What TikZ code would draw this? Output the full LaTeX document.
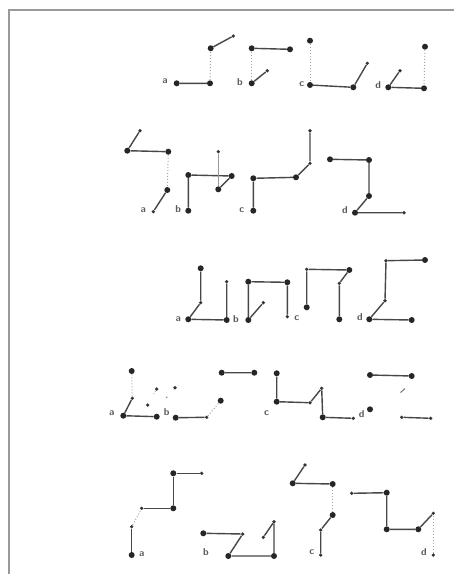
\documentclass[tikz,border=0pt]{standalone}
\begin{document}
\begin{tikzpicture}[x=1pt,y=-1pt,
  bd/.style={circle,fill=black!85,inner sep=0pt,minimum size=6pt},
  sd/.style={circle,fill=black!80,inner sep=0pt,minimum size=3.6pt},
  td/.style={circle,fill=black!40,inner sep=0pt,minimum size=2pt},
  ln/.style={line width=1.4pt,draw=black!72},
  dl/.style={line width=1pt,draw=black!35,dotted},
  lb/.style={font=\fontsize{10}{10}\sffamily\bfseries,text=black!65,inner sep=0pt}]
\fill[white] (0,0) rectangle (454,574);
\useasboundingbox (0,0) rectangle (454,574);
\draw[line width=1.4pt,black!40] (9,574) -- (9,10) -- (454,10);
% ---------- row 1
\node[lb] (la1) at (165,81) {a};
\node[bd] (A1) at (176.7,83.3) {}; \node[bd] (A2) at (210,83.3) {};
\node[bd] (A3) at (210.7,48.3) {}; \node[sd] (A4) at (233.3,36) {};
\draw[ln] (A1)--(A2) (A3)--(A4); \draw[dl] (A2)--(A3);
\node[lb] (lb1) at (240,81.7) {b};
\node[bd] (B1) at (251.7,83.3) {}; \node[sd] (B2) at (267.3,70.7) {};
\node[bd] (B3) at (251.7,48.3) {}; \node[bd] (B4) at (290,49.3) {};
\draw[ln] (B1)--(B2) (B3)--(B4); \draw[dl] (B3)--(B1);
\node[lb] (lc1) at (301.7,84) {c};
\node[bd] (C1) at (310,85) {}; \node[bd] (C2) at (353.3,87.3) {};
\node[sd] (C3) at (367.3,63.3) {}; \node[bd] (C4) at (310,40.7) {};
\draw[ln] (C1)--(C2) (C2)--(C3); \draw[dl] (C4)--(C1);
\node[lb] (ld1) at (378.3,85) {d};
\node[bd] (D1) at (388.3,87.3) {}; \node[sd] (D2) at (400,70.7) {};
\node[bd] (D3) at (424,88.3) {}; \node[bd] (D4) at (425,46.7) {};
\draw[ln] (D1)--(D2) (D1)--(D3); \draw[dl] (D4)--(D3);
% ---------- row 2
\node[sd] (E1) at (140,130.7) {}; \node[bd] (E2) at (127.3,150.7) {};
\node[bd] (E3) at (168.3,151.7) {}; \node[bd] (E4) at (167.3,190) {};
\node[sd] (E5) at (153.3,211.7) {}; \node[lb] (la2) at (143.3,210) {a};
\draw[ln] (E1)--(E2) (E2)--(E3) (E4)--(E5); \draw[dl] (E3)--(E4);
\node[lb] (lb2) at (178.3,209.3) {b};
\node[bd] (F1) at (188.3,210.7) {}; \node[bd] (F2) at (188.3,175) {};
\node[bd] (F3) at (231.7,176) {}; \node[bd] (F4) at (218.3,189.3) {};
\node[sd] (F5) at (218.3,151.7) {};
\draw[ln] (F1)--(F2) (F2)--(F3) (F4)--(F3); \draw[ln,black!40,line width=0.9pt] (F5)--(F4);
\node[lb] (lc2) at (241.7,210) {c};
\node[bd] (G1) at (253.3,210.7) {}; \node[bd] (G2) at (253.3,178.3) {};
\node[bd] (G3) at (296,177.3) {}; \node[sd] (G4) at (310,163.3) {};
\node[sd] (G5) at (310,130.7) {};
\draw[ln] (G1)--(G2) (G2)--(G3) (G3)--(G4) (G4)--(G5);
\node[lb] (ld2) at (345,210) {d};
\node[bd] (H1) at (355,212.7) {}; \node[bd] (H2) at (369,196) {};
\node[bd] (H3) at (369,160) {}; \node[bd] (H4) at (330,159.3) {};
\node[sd] (H5) at (404,212.7) {};
\draw[ln] (H1)--(H2) (H2)--(H3) (H3)--(H4) (H1)--(H5);
% ---------- row 3
\node[lb] (la3) at (178.3,319.3) {a};
\node[bd] (I1) at (188.3,319.3) {}; \node[sd] (I2) at (200.7,302.7) {};
\node[bd] (I3) at (200.7,268.3) {}; \node[bd] (I4) at (226.7,320) {};
\node[sd] (I5) at (226.7,281.7) {};
\draw[ln] (I1)--(I2) (I2)--(I3) (I1)--(I4) (I4)--(I5);
\node[lb] (lb3) at (236,319.3) {b};
\node[bd] (J1) at (248.3,320) {}; \node[sd] (J2) at (263.3,302.7) {};
\node[bd] (J3) at (248.3,281.7) {}; \node[bd] (J4) at (287.3,282.3) {};
\node[sd] (J5) at (287.3,316.7) {};
\draw[ln] (J1)--(J2) (J1)--(J3) (J3)--(J4) (J4)--(J5);
\node[lb] (lc3) at (296.7,318.3) {c};
\node[bd] (K1) at (306.7,307.3) {}; \node[sd] (K2) at (306.7,269.3) {};
\node[bd] (K3) at (349.3,270) {}; \node[sd] (K4) at (339.3,283.3) {};
\node[bd] (K5) at (339.3,319.3) {};
\draw[ln] (K1)--(K2) (K2)--(K3) (K3)--(K4) (K4)--(K5);
\node[lb] (ld3) at (360,316.7) {d};
\node[bd] (L1) at (369.3,319.3) {}; \node[sd] (L2) at (385,300.7) {};
\node[sd] (L3) at (386,260.7) {}; \node[bd] (L4) at (425,260) {};
\node[bd] (L5) at (411.7,320) {};
\draw[ln] (L1)--(L2) (L2)--(L3) (L3)--(L4) (L1)--(L5);
% ---------- row 4
\node[lb] (la4) at (111.7,413.3) {a};
\node[bd] (M1) at (123.3,415.7) {}; \node[sd] (M2) at (132.3,398.3) {};
\node[bd] (M3) at (131.7,371) {}; \node[bd] (M4) at (156.7,416.7) {};
\draw[ln] (M1)--(M2) (M1)--(M4); \draw[dl] (M2)--(M3);
\node[sd] (N1) at (147.7,405) {}; \node[sd] (N2) at (156.7,389) {};
\node[sd] (N3) at (175,387.7) {}; \node[td] (N4) at (166.7,397.3) {};
\coordinate (n2t) at (153.8,394);
\draw[dl] (N2)--(n2t);
\node[lb] (lb4) at (166.7,412) {b};
\node[bd] (O1) at (175.7,417.7) {}; \node[sd] (O2) at (206.7,417.3) {};
\node[bd] (O3) at (220.7,400.7) {}; \node[bd] (O4) at (221.7,372.7) {};
\node[bd] (O5) at (254.3,372.7) {};
\draw[ln] (O1)--(O2) (O4)--(O5); \draw[dl] (O2)--(O3);
\node[lb] (lc4) at (266.5,413.3) {c};
\node[bd] (P1) at (276.7,373.3) {}; \node[bd] (P2) at (276.7,401.7) {};
\node[sd] (P3) at (310,402.7) {}; \node[sd] (P4) at (321.7,388.3) {};
\node[bd] (P5) at (322.7,417.3) {}; \node[sd] (P6) at (353.3,418.3) {};
\draw[ln] (P1)--(P2) (P2)--(P3) (P3)--(P4) (P4)--(P5) (P5)--(P6);
\node[lb] (ld4) at (361.7,414) {d};
\node[bd] (Q1) at (370,409.3) {}; \node[bd] (Q2) at (370,375) {};
\node[bd] (Q3) at (411.7,376) {};
\coordinate (q4a) at (400.5,392.5); \coordinate (q4b) at (405,388.5);
\node[sd] (Q5) at (401.7,417.3) {}; \node[sd] (Q6) at (430.7,418.3) {};
\draw[ln] (Q2)--(Q3) (Q5)--(Q6); \draw[ln,black!55,line width=1pt] (q4a)--(q4b);
% ---------- row 5
\node[bd] (R1) at (131.7,555) {}; \node[lb] (la5) at (141.7,554) {a};
\node[sd] (R2) at (131.7,526.7) {}; \node[sd] (R3) at (141.7,508.3) {};
\node[bd] (R4) at (173.3,508.3) {}; \node[bd] (R5) at (173.3,473.3) {};
\node[sd] (R6) at (201.7,473.3) {};
\draw[ln] (R1)--(R2) (R3)--(R4) (R4)--(R5) (R5)--(R6); \draw[dl] (R2)--(R3);
\node[lb] (lb5) at (206,551.7) {b};
\node[bd] (S1) at (203.3,533.3) {}; \node[sd] (S2) at (242.7,534) {};
\node[bd] (S3) at (228.3,556) {}; \node[bd] (S4) at (274,556) {};
\node[sd] (S5) at (274,521.7) {}; \node[sd] (S6) at (263.3,537.3) {};
\draw[ln] (S1)--(S2) (S2)--(S3) (S3)--(S4) (S4)--(S5) (S5)--(S6);
\node[lb] (lc5) at (311.7,551.7) {c};
\node[sd] (T1) at (320.7,555) {}; \node[sd] (T2) at (320.7,530) {};
\node[bd] (T3) at (332.7,515) {}; \node[bd] (T4) at (332.7,484) {};
\node[bd] (T5) at (292.7,483.3) {}; \node[sd] (T6) at (305,465) {};
\draw[ln] (T1)--(T2) (T2)--(T3) (T4)--(T5) (T5)--(T6); \draw[dl] (T3)--(T4);
\node[lb] (ld5) at (424,551.7) {d};
\node[sd] (U1) at (433.3,555) {}; \node[sd] (U2) at (433.3,513.3) {};
\node[bd] (U3) at (418.3,529.3) {}; \node[bd] (U4) at (386.7,529.3) {};
\node[bd] (U5) at (386.7,492.7) {}; \node[sd] (U6) at (351.7,493.3) {};
\draw[ln] (U2)--(U3) (U3)--(U4) (U4)--(U5) (U5)--(U6); \draw[dl] (U1)--(U2);
\end{tikzpicture}
\end{document}
